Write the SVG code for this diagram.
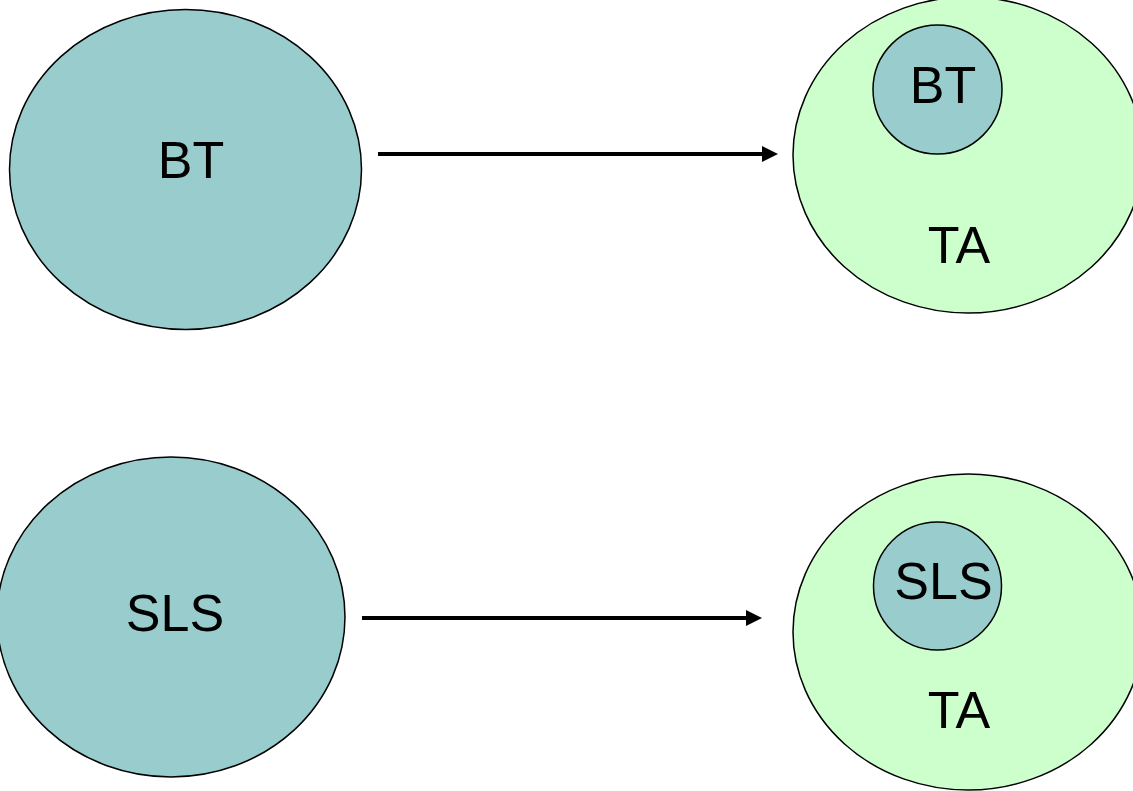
<svg xmlns="http://www.w3.org/2000/svg" width="1133" height="791" viewBox="0 0 1133 791">
<style>
.teal{fill:#99cccc;stroke:#000;stroke-width:1.5}
.green{fill:#ccffcc;stroke:#000;stroke-width:1.5}
.lbl{font-family:"Liberation Sans",Arial,sans-serif;font-size:52px;fill:#000;text-anchor:middle}
.conn{stroke:#000;stroke-width:4;fill:none}
.head{fill:#000}
</style>
<rect width="1133" height="791" fill="#fff"/>
<g id="bt-left">
<ellipse class="teal" cx="185.5" cy="169.5" rx="176" ry="160"/>
<text class="lbl" x="191" y="178">BT</text>
</g>
<g id="ta-top">
<ellipse class="green" cx="968" cy="155" rx="175" ry="158"/>
<text class="lbl" x="959" y="263">TA</text>
</g>
<g id="bt-inner">
<circle class="teal" cx="937.5" cy="89.5" r="64.5"/>
<text class="lbl" x="943" y="103">BT</text>
</g>
<g id="sls-left">
<ellipse class="teal" cx="171" cy="617" rx="174" ry="160"/>
<text class="lbl" x="175" y="631">SLS</text>
</g>
<g id="ta-bottom">
<ellipse class="green" cx="968" cy="632" rx="175" ry="158"/>
<text class="lbl" x="959" y="728">TA</text>
</g>
<g id="sls-inner">
<circle class="teal" cx="937.5" cy="586" r="64"/>
<text class="lbl" x="943.5" y="599">SLS</text>
</g>
<g id="connectors">
<line class="conn" x1="378" y1="154" x2="763" y2="154"/>
<polygon class="head" points="762,146 778,154 762,162"/>
<line class="conn" x1="362" y1="618" x2="747" y2="618"/>
<polygon class="head" points="746,610 762,618 746,626"/>
</g>
</svg>
